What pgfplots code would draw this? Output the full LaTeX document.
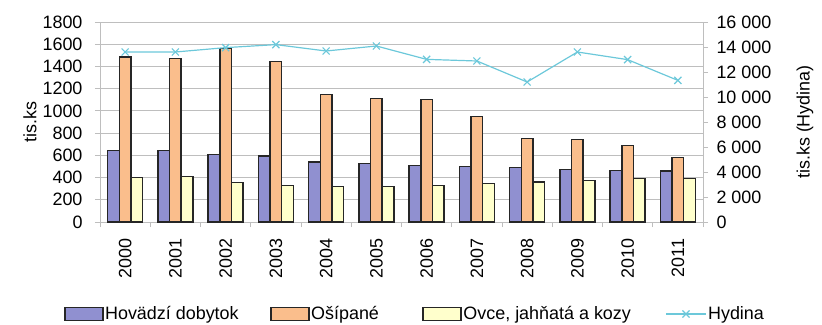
\documentclass[border=0pt]{standalone}
\usepackage{pgfplots}
\pgfplotsset{compat=1.18}
\usepackage{fontspec}
\setmainfont{Liberation Sans}
\definecolor{cBlue}{RGB}{144,144,208}
\definecolor{cOrange}{RGB}{250,190,140}
\definecolor{cYellow}{RGB}{255,255,204}
\definecolor{cLine}{RGB}{108,200,218}
\definecolor{cGrid}{RGB}{190,190,190}
\begin{document}
\begin{tikzpicture}[font=\fontsize{18}{20}\selectfont]
\begin{axis}[
  scale only axis, width=603bp, height=200bp,
  at={(0,0)}, anchor=south west,
  xmin=-0.5, xmax=11.5, ymin=0, ymax=1800,
  ytick={0,200,...,1800},
  /pgf/number format/assume math mode=true,
  /pgf/number format/1000 sep={},
  ymajorgrids, grid style={cGrid, line width=0.8pt},
  axis x line*=bottom, axis y line*=left,
  axis line style={cGrid, line width=0.8pt},
  tick align=outside, major tick length=5bp,
  y tick style={cGrid, line width=0.8pt},
  yticklabel shift=9bp,
  xtick={0,...,11},
  xticklabels={2000,2001,2002,2003,2004,2005,2006,2007,2008,2009,2010,2011},
  major x tick style={draw=none},
  minor xtick={-0.5,0.5,...,11.5},
  minor x tick style={cGrid, line width=0.8pt},
  minor tick length=5bp,
  xticklabel style={rotate=90, anchor=east},
  xticklabel shift=8bp,
  ylabel={tis.ks},
  ylabel style={at={(axis description cs:-0.116,0.5)}, anchor=center, rotate=0},
  ybar=0pt, bar width=11.6bp,
  legend style={at={(0.522,-0.46)}, anchor=center, draw=none, fill=none,
    legend columns=-1, font=\fontsize{18}{20}\selectfont,
    nodes={inner sep=1.5bp},
    /tikz/column 2/.style={column sep=30bp},
    /tikz/column 4/.style={column sep=42bp},
    /tikz/column 6/.style={column sep=33bp},
    legend cell align=left, inner sep=0pt},
  legend image code/.code={\draw[#1, line width=1.5pt] (0bp,-6.5bp) rectangle (38bp,6.5bp);},
]
\addplot[fill=cBlue, draw=black!85, line width=1.5pt] coordinates {(0,645)(1,645)(2,609)(3,594)(4,540)(5,528)(6,510)(7,501)(8,489)(9,471)(10,465)(11,459)};
\addlegendentry{Hovädzí dobytok}
\addplot[fill=cOrange, draw=black!85, line width=1.5pt] coordinates {(0,1485)(1,1470)(2,1560)(3,1446)(4,1149)(5,1110)(6,1104)(7,951)(8,750)(9,741)(10,687)(11,579)};
\addlegendentry{Ošípané}
\addplot[fill=cYellow, draw=black!85, line width=1.5pt] coordinates {(0,399)(1,411)(2,357)(3,327)(4,321)(5,321)(6,330)(7,345)(8,360)(9,375)(10,393)(11,390)};
\addlegendentry{Ovce, jahňatá a kozy}
\addlegendimage{legend image code/.code={\draw[cLine, line width=1.2pt] (0bp,0bp) -- (40bp,0bp); \draw[cLine, line width=1.2pt] plot[mark=x, mark size=5bp] coordinates {(20bp,0bp)};}}
\addlegendentry{Hydina}
\end{axis}
\begin{axis}[
  scale only axis, width=603bp, height=200bp,
  at={(0,0)}, anchor=south west,
  xmin=-0.5, xmax=11.5, ymin=0, ymax=16000,
  ytick={0,2000,...,16000},
  scaled y ticks=false,
  /pgf/number format/assume math mode=true,
  /pgf/number format/1000 sep={\ },
  axis x line=none, axis y line*=right,
  axis line style={cGrid, line width=0.8pt},
  tick align=outside, major tick length=5bp,
  y tick style={cGrid, line width=0.8pt},
  yticklabel shift=5bp,
  ylabel={tis.ks (Hydina)},
  ylabel style={at={(axis description cs:1.169,0.5)}, anchor=center, rotate=0},
]
\addplot[cLine, line width=1.2pt, mark=x, mark size=5bp] coordinates {(0,13600)(1,13600)(2,13950)(3,14190)(4,13680)(5,14080)(6,13010)(7,12880)(8,11200)(9,13600)(10,12990)(11,11330)};
\end{axis}
\pgfresetboundingbox
\path (-100bp,-103bp) rectangle (722bp,222bp);
\end{tikzpicture}
\end{document}
